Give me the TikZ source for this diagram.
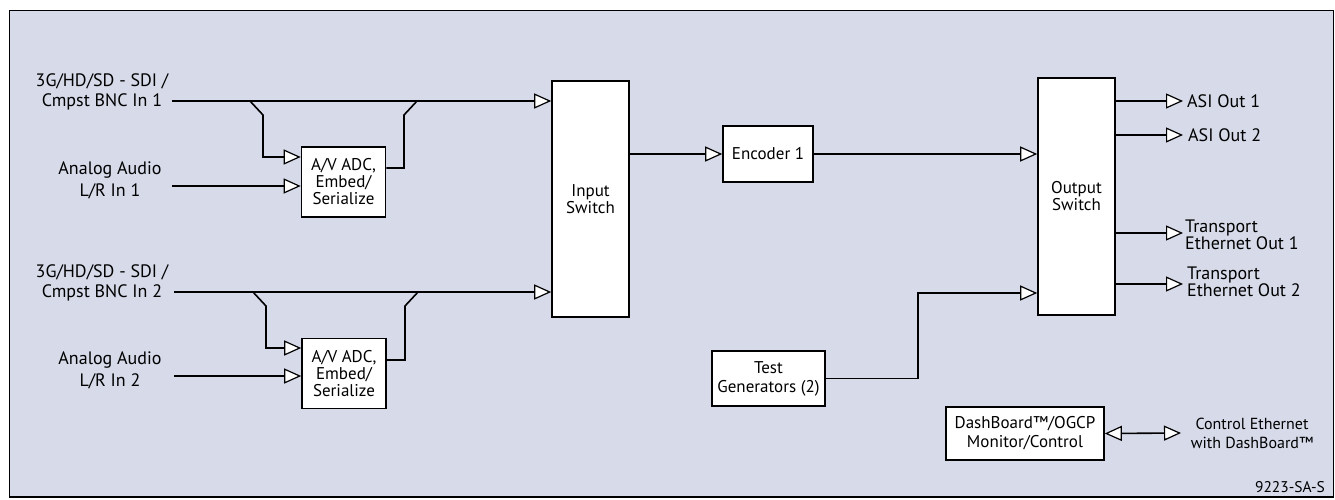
\documentclass[tikz,border=0pt]{standalone}
\usepackage{fontspec}
\setmainfont{PT Sans}
\usetikzlibrary{arrows.meta}
\definecolor{bg}{RGB}{214,218,233}
\begin{document}
\begin{tikzpicture}[x=1pt,y=-1pt,
  ln/.style={line width=1.6pt},
  tip/.style={-{Triangle[length=17pt,width=15pt,fill=white,line width=1.2pt]}},
  tips/.style={{Triangle[length=17pt,width=15pt,fill=white,line width=1.2pt]}-{Triangle[length=17pt,width=15pt,fill=white,line width=1.2pt]}},
  blk/.style={draw,fill=white,line width=1.6pt,inner sep=0pt,align=center,font=\fontsize{17}{17}\selectfont},
  lbl/.style={align=center,font=\fontsize{18}{20}\selectfont,inner sep=0pt},
  olbl/.style={align=left,anchor=west,font=\fontsize{18}{17}\selectfont,inner sep=0pt}
]
\useasboundingbox (0,0) rectangle (1335,499);
\draw[fill=bg,line width=1.6pt] (9.5,10.5) rectangle (1333.5,497);

% blocks
\node[blk,minimum width=77pt,minimum height=236pt] (insw) at (590.5,199) {Input\\Switch};
\node[blk,minimum width=84pt,minimum height=70pt] (av1) at (343.5,182) {A/V ADC,\\Embed/\\Serialize};
\node[blk,minimum width=84pt,minimum height=70pt] (av2) at (344,373.5) {A/V ADC,\\Embed/\\Serialize};
\node[blk,minimum width=90pt,minimum height=56pt] (enc) at (768,154) {Encoder 1};
\node[blk,minimum width=77pt,minimum height=237pt] (outsw) at (1076.5,196.5) {Output\\Switch};
\node[blk,minimum width=113pt,minimum height=55pt,font=\fontsize{17}{19}\selectfont] (tg) at (768.5,378.5) {Test\\Generators (2)};
\node[blk,minimum width=158pt,minimum height=53pt,font=\fontsize{17}{19}\selectfont] (dash) at (1025,433.5) {DashBoard™/OGCP\\Monitor/Control};

% input labels
\node[lbl] (in1l) at (102,92) {3G/HD/SD - SDI /\\Cmpst BNC In 1};
\node[lbl,font=\fontsize{18}{22}\selectfont] (au1l) at (110,180.5) {Analog Audio\\L/R In 1};
\node[lbl] (in2l) at (102,283) {3G/HD/SD - SDI /\\Cmpst BNC In 2};
\node[lbl,font=\fontsize{18}{22}\selectfont] (au2l) at (110,370.5) {Analog Audio\\L/R In 2};

\coordinate (in1s) at (172,101);
\coordinate (au1s) at (172,186);
\coordinate (in2s) at (174,292);
\coordinate (au2s) at (174,376);
\coordinate (b1a) at (250,101);
\coordinate (b1b) at (417,101);
\coordinate (b2a) at (253,292);
\coordinate (b2b) at (418,292);

% input 1 path
\draw[ln,tip] (in1s) -- ([yshift=98pt]insw.west);
\draw[ln,tip] (b1a) -- (263,115) -- (263,157) -- ([yshift=25pt]av1.west);
\draw[ln,tip] (au1s) -- ([yshift=-4pt]av1.west);
\draw[ln] ([yshift=14pt]av1.east) -- (404,168) -- (404,115) -- (b1b);

% input 2 path
\draw[ln,tip] (in2s) -- ([yshift=-93pt]insw.west);
\draw[ln,tip] (b2a) -- (266,306) -- (266,348) -- ([yshift=25.5pt]av2.west);
\draw[ln,tip] (au2s) -- ([yshift=-2.5pt]av2.west);
\draw[ln] ([yshift=13.5pt]av2.east) -- (405,360) -- (405,306) -- (b2b);

% middle
\draw[ln,tip] (insw.east |- enc.west) -- (enc.west);
\draw[ln,tip] (enc.east) -- (outsw.west |- enc.east);
\coordinate (tgk) at (918,293);
\draw[ln,tip] (tg.east) -| (tgk) -- (outsw.west |- tgk);

% outputs
\coordinate (o1) at (1183,101);
\coordinate (o2) at (1183,135);
\coordinate (o3) at (1183,233);
\coordinate (o4) at (1183,284);
\draw[ln,tip] (outsw.east |- o1) -- (o1);
\draw[ln,tip] (outsw.east |- o2) -- (o2);
\draw[ln,tip] (outsw.east |- o3) -- (o3);
\draw[ln,tip] (outsw.east |- o4) -- (o4);
\node[olbl] (o1l) at (1187,101) {ASI Out 1};
\node[olbl] (o2l) at (1188,135) {ASI Out 2};
\node[olbl] (o3l) at (1185,235) {Transport\\Ethernet Out 1};
\node[olbl] (o4l) at (1187,282) {Transport\\Ethernet Out 2};

% control
\coordinate (ctl) at (1181,433);
\draw[ln,tips] (dash.east) -- (ctl);
\node[lbl,font=\fontsize{16}{19}\selectfont] (ctll) at (1252,433) {Control Ethernet\\with DashBoard™};
\node[lbl,font=\fontsize{15.5}{17}\selectfont] (code) at (1290,487) {9223-SA-S};
\end{tikzpicture}
\end{document}
